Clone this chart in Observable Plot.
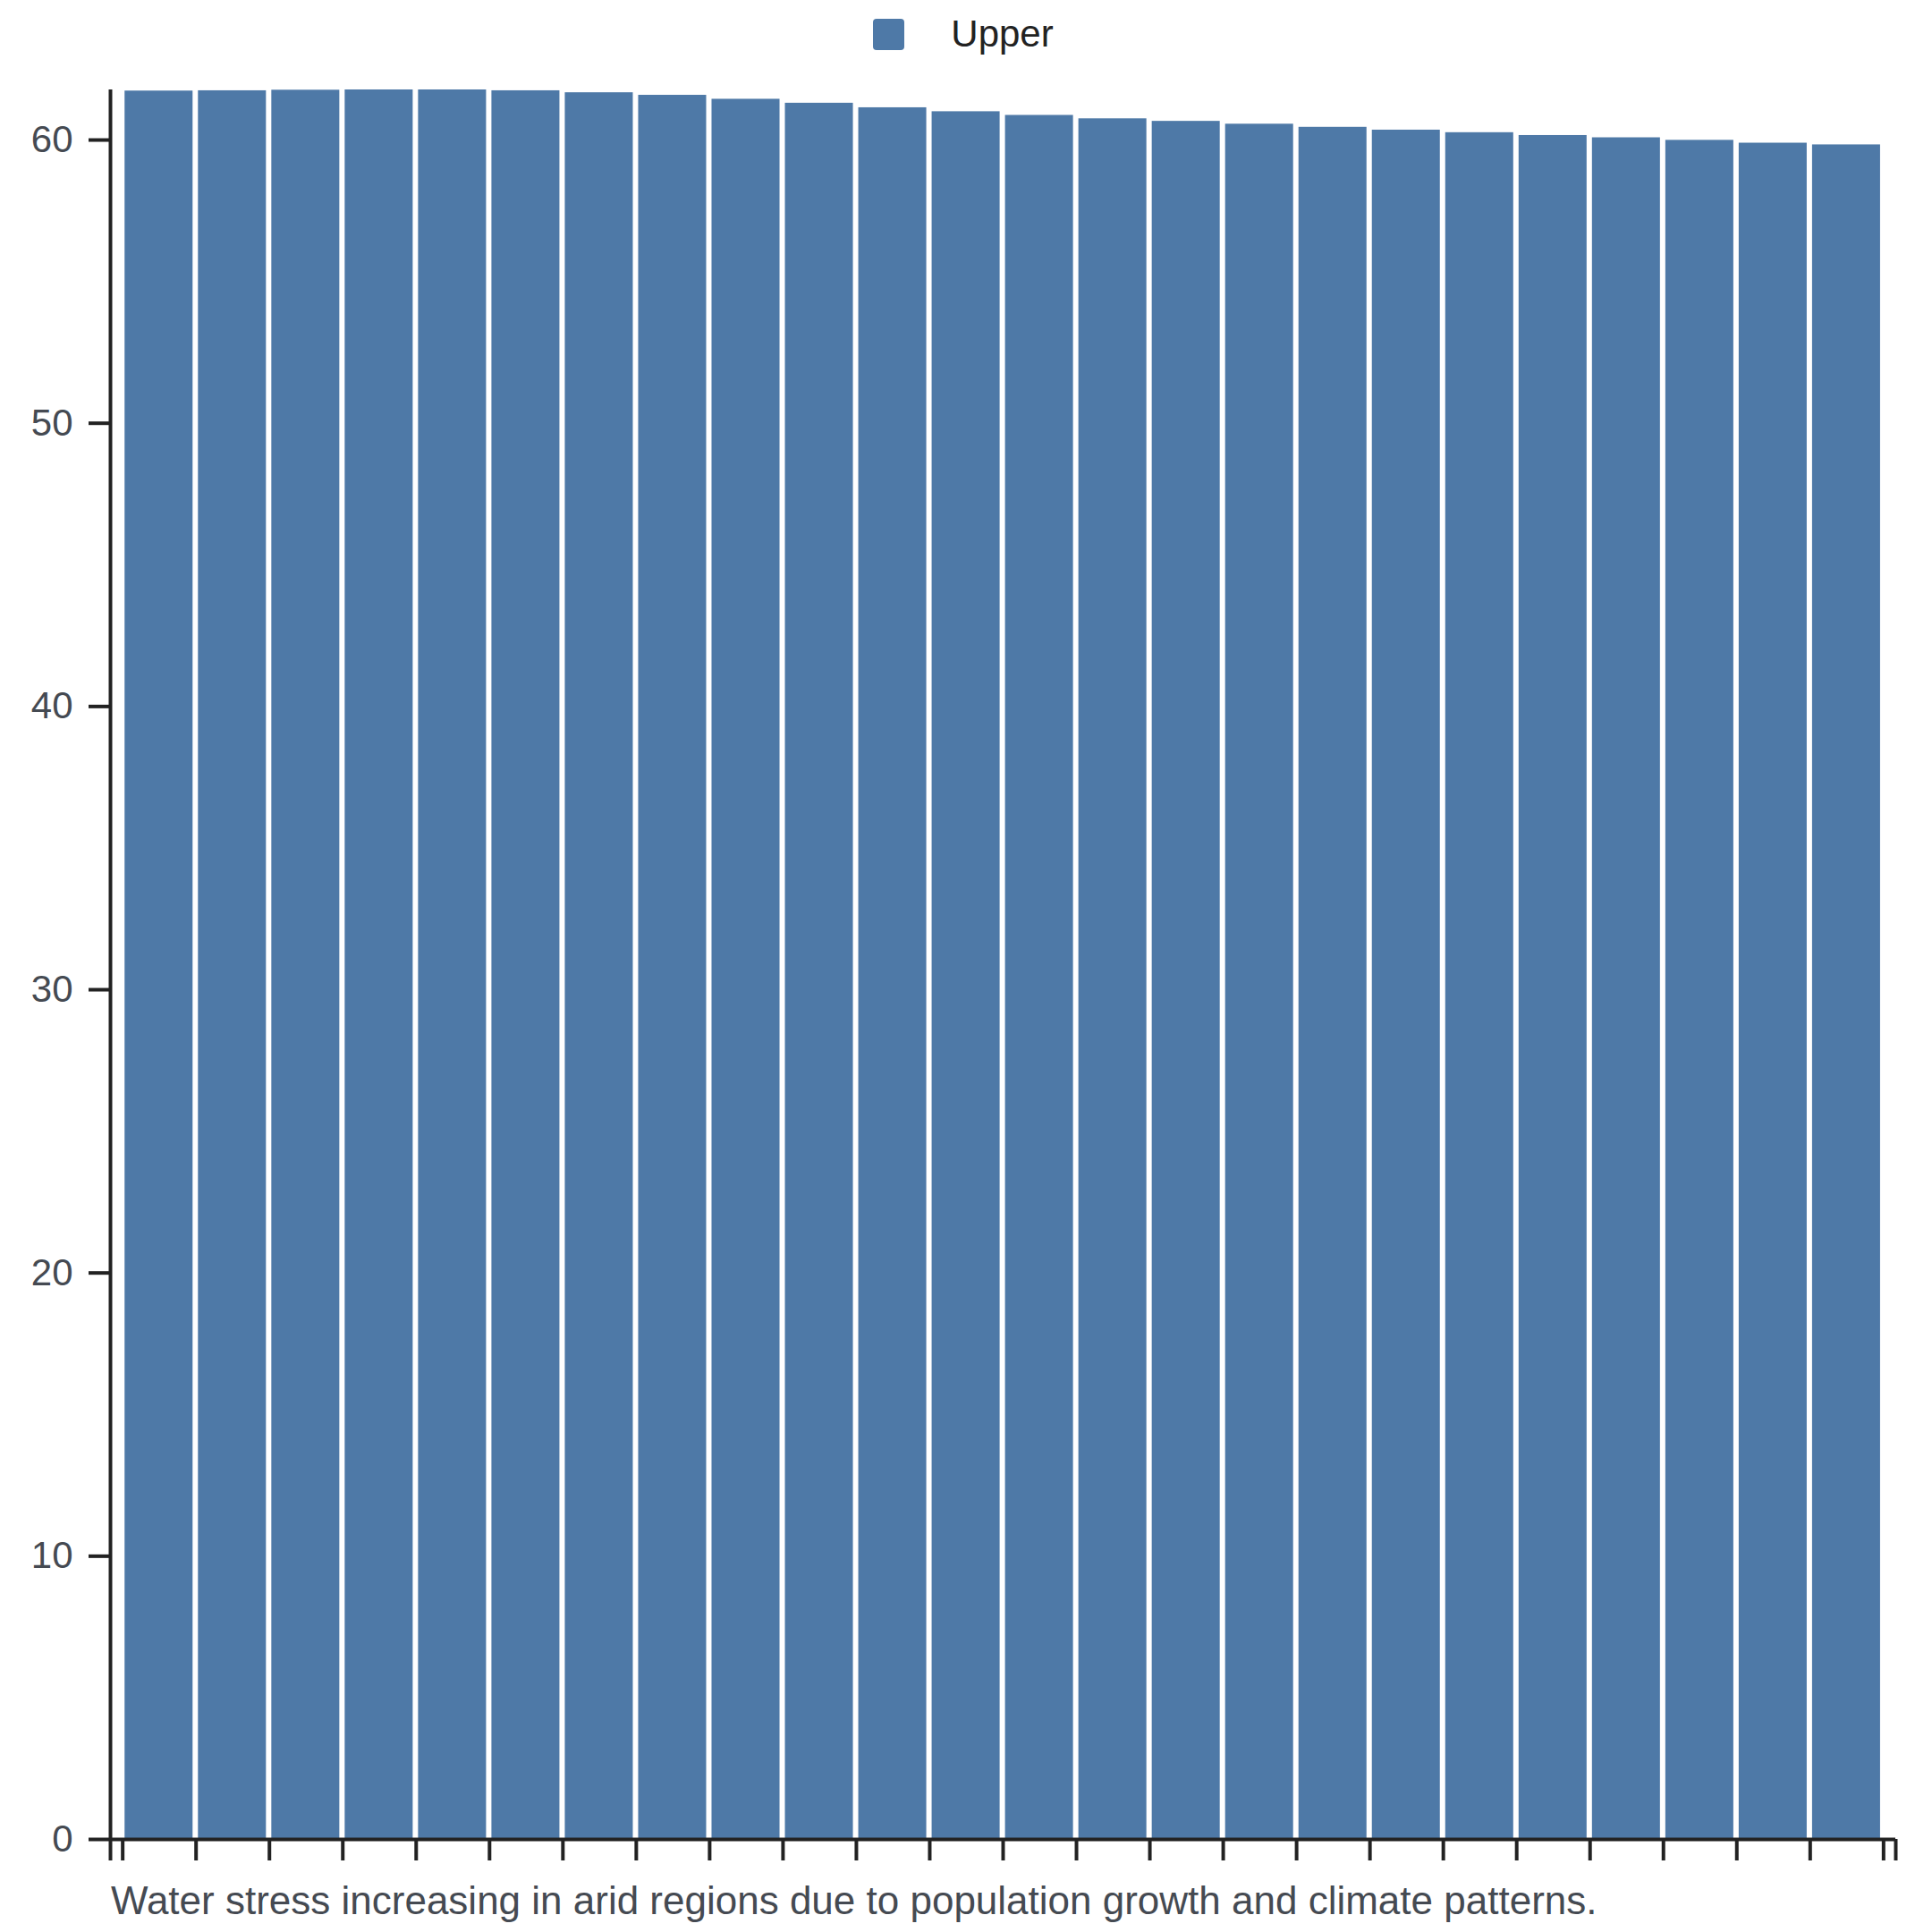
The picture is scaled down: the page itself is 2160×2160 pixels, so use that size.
<!DOCTYPE html>
<html>
<head>
<meta charset="utf-8">
<script src="https://cdn.jsdelivr.net/npm/d3@7"></script>
<script src="https://cdn.jsdelivr.net/npm/@observablehq/plot@0.6"></script>
<style>
  html, body { margin: 0; padding: 0; background: #fff; }
  body { width: 2160px; font-family: "Liberation Sans", Arial, sans-serif; }
  #legend { height: 76px; display: flex; align-items: center; justify-content: center; padding-right: 6px; }
  #legend .sw { width: 35px; height: 35px; border-radius: 4px; background: #4e79a7; margin-right: 52px; }
  #legend .lb { font-size: 42px; color: #222; }
  #caption { margin-top: 14px; margin-left: 124px; font-size: 44px; line-height: 50px; color: #454a52; }
  svg { display: block; }
</style>
</head>
<body>
<div id="legend"><span class="sw"></span><span class="lb">Upper</span></div>
<div id="chart"></div>
<div id="caption">Water stress increasing in arid regions due to population growth and climate patterns.</div>
<script>
const seriesName = "Upper";
const periods = [2000, 2001, 2002, 2003, 2004, 2005, 2006, 2007, 2008, 2009, 2010, 2011,
                 2012, 2013, 2014, 2015, 2016, 2017, 2018, 2019, 2020, 2021, 2022, 2023];
const upperValues = [61.73, 61.74, 61.76, 61.77, 61.77, 61.74, 61.67, 61.58, 61.44, 61.30, 61.14, 61.00,
                     60.87, 60.75, 60.66, 60.56, 60.45, 60.35, 60.26, 60.16, 60.08, 59.99, 59.89, 59.83];
const yTicks = [0, 10, 20, 30, 40, 50, 60];

const data = periods.map((p, i) => ({start: p, end: p + 1, value: upperValues[i]}));
const bounds = periods.concat([periods[periods.length - 1] + 1]);
const pad = 1 / 6;
const xmin = bounds[0] - pad;
const xmax = bounds[bounds.length - 1] + pad;
const ink = "#222";

const chart = Plot.plot({
  width: 2160,
  height: 2010,
  marginTop: 24,
  marginBottom: 30,
  marginLeft: 123,
  marginRight: 41,
  style: {fontFamily: "Liberation Sans, Arial, sans-serif", fontSize: "42px", background: "#fff", overflow: "visible"},
  x: {type: "linear", domain: [xmin, xmax]},
  y: {domain: [0, d3.max(upperValues)]},
  marks: [
    Plot.rectY(data, {x1: "start", x2: "end", y: "value", fill: "#4e79a7", insetLeft: 2.6, insetRight: 3.4}),
    Plot.ruleX([xmin], {stroke: ink, strokeWidth: 4}),
    Plot.ruleY([0], {stroke: ink, strokeWidth: 4}),
    Plot.axisX({ticks: [xmin, ...bounds, xmax], tickSize: 24, tickFormat: () => "", stroke: ink, strokeWidth: 4, label: null}),
    Plot.axisY({ticks: yTicks, tickSize: 24, tickPadding: 18, stroke: ink, strokeWidth: 4, fill: "#454a52", fontSize: 42, label: null})
  ]
});
document.getElementById("chart").appendChild(chart);
</script>
</body>
</html>
